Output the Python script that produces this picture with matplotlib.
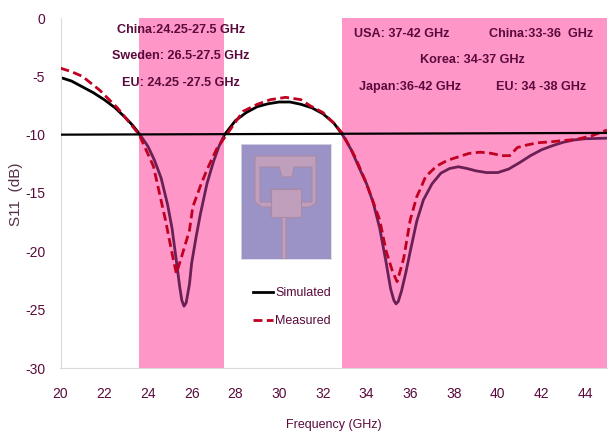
import matplotlib
matplotlib.use("Agg")
import matplotlib.pyplot as plt
from matplotlib.patches import Polygon, Rectangle

plt.rcParams['font.family'] = ['Liberation Sans', 'DejaVu Sans']
plt.rcParams['axes.unicode_minus'] = False

sim_freq = [20, 20.5, 21, 21.5, 22, 22.5, 23, 23.3, 23.6, 24, 24.3, 24.6, 24.9, 25.1, 25.3, 25.45, 25.55, 25.65, 25.75,
            25.9, 26, 26.2, 26.4, 26.7, 27, 27.25, 27.5, 28, 28.5, 29, 29.5, 30, 30.5, 31, 31.5, 32, 32.5, 32.9,
            33.3, 33.7, 34, 34.3, 34.6, 34.9, 35.1, 35.25, 35.35, 35.45, 35.6, 35.8, 36, 36.3, 36.6, 37, 37.4, 37.8,
            38.2, 38.6, 39, 39.5, 40, 40.5, 41, 41.5, 42, 42.5, 43, 43.5, 44, 45]
sim_s11 = [-5.1, -5.4, -5.9, -6.4, -7.0, -7.7, -8.6, -9.2, -9.9, -11.0, -12.2, -13.7, -16.0, -18.0, -20.8, -23.0,
           -24.2, -24.7, -24.4, -22.8, -21.0, -18.8, -16.8, -14.2, -12.3, -11.0, -10.0, -8.8, -8.1, -7.6, -7.35, -7.2,
           -7.2, -7.4, -7.7, -8.2, -9.0, -10.0, -11.3, -13.0, -14.2, -15.8, -18.0, -21.0, -23.2, -24.2, -24.5, -24.3,
           -23.4, -21.8, -20.0, -17.4, -15.6, -14.2, -13.3, -12.9, -12.75, -12.9, -13.1, -13.25, -13.25, -12.95, -12.4,
           -11.8, -11.3, -10.95, -10.65, -10.45, -10.35, -10.3]

meas_freq = [20, 20.5, 21, 21.8, 22.6, 23.3, 23.6, 24.25, 24.8, 25.0, 25.15, 25.3, 25.55, 25.9, 26.05, 26.4, 26.7,
             27.15, 27.6, 28.35, 29, 29.6, 30.3, 31, 31.4, 32, 32.5, 32.9, 33.5, 34, 34.6, 34.9, 35.2, 35.4, 35.7,
             36, 36.3, 36.45, 36.7, 37.2, 37.7, 38.2, 38.7, 39.2, 39.7, 40.2, 40.55, 40.9, 41.3, 41.8, 42.5, 43.6, 44.3, 45]
meas_s11 = [-4.3, -4.6, -5.0, -6.2, -7.7, -9.3, -10.0, -12.7, -17.3, -19.2, -20.6, -21.9, -20.4, -18.2, -16.2,
            -14.4, -13.0, -11.2, -10.0, -8.0, -7.4, -7.0, -6.8, -7.0, -7.5, -8.1, -9.0, -9.9, -12.0, -14.2, -17.3,
            -20.0, -21.8, -22.6, -20.6, -17.3, -15.3, -14.7, -13.6, -12.7, -12.2, -11.9, -11.6, -11.5, -11.6, -11.8,
            -11.8, -11.1, -10.9, -10.7, -10.6, -10.4, -10.1, -9.6]

ref_freq = [20, 45]
ref_s11 = [-10, -9.85]

bands = [(23.6, 27.5), (32.9, 45)]
x_ticks = list(range(20, 46, 2))
y_ticks = [0, -5, -10, -15, -20, -25, -30]

text_color = "#5a0a3c"
pink = "#ff96c8"

fig = plt.figure(figsize=(6.14, 4.34), dpi=100)
ax = fig.add_axes([60.5 / 614, 1 - 368 / 434, (607 - 60.5) / 614, 350 / 434])

sim_line, = ax.plot(sim_freq, sim_s11, color="black", lw=2, zorder=2, label="Simulated")
for start, end in bands:
    ax.axvspan(start, end, color=pink, lw=0, zorder=2.5)
    # black line turns purple where the pink sits over it
    inside, = ax.plot(sim_freq, sim_s11, color="#6a1f55", lw=2, zorder=3)
    inside.set_clip_path(Rectangle((start, -30), end - start, 30, transform=ax.transData))
meas_line, = ax.plot(meas_freq, meas_s11, color="#c00020", lw=2, ls=(0, (3.2, 1.6)), zorder=4, label="Measured")
ax.plot(ref_freq, ref_s11, color="black", lw=1.6, zorder=5)

ax.set_xlim(20, 45)
ax.set_ylim(-30, 0)
ax.set_xticks(x_ticks)
ax.set_yticks(y_ticks)
ax.tick_params(length=0, labelsize=10, labelcolor=text_color)
ax.tick_params(axis="x", pad=14)
ax.tick_params(axis="y", pad=11)
for side in ["top", "right"]:
    ax.spines[side].set_visible(False)
for side in ["left", "bottom"]:
    ax.spines[side].set_color("#d9d9d9")

fig.text(334 / 614, 1 - 425 / 434, "Frequency (GHz)", color=text_color, fontsize=9, ha="center", va="center")
fig.text(16 / 614, 1 - 194 / 434, "S11  (dB)", color="#55304a", fontsize=11, rotation=90, ha="center", va="center")

band_labels = [
    ("China:24.25-27.5 GHz", 181, 30),
    ("Sweden: 26.5-27.5 GHz", 181, 56),
    ("EU: 24.25 -27.5 GHz", 181, 83),
    ("USA: 37-42 GHz", 402, 34),
    ("China:33-36  GHz", 541, 34),
    ("Korea: 34-37 GHz", 472, 60),
    ("Japan:36-42 GHz", 410, 87),
    ("EU: 34 -38 GHz", 541, 87),
]
for label, px, py in band_labels:
    fig.text(px / 614, 1 - py / 434, label, color=text_color, fontsize=9.1, fontweight="bold", ha="center", va="center",
             zorder=10)

# antenna photo, drawn in its own small axes
photo = fig.add_axes([241 / 614, 1 - 259 / 434, 89.5 / 614, 115 / 434])
photo.set_facecolor("#9b93c6")
photo.set_xlim(241, 330.5)
photo.set_ylim(259, 144)
photo.set_xticks([])
photo.set_yticks([])
for spine in photo.spines.values():
    spine.set_color("#d8d8e4")
    spine.set_linewidth(0.6)
patch_color = "#bf9fbb"
edge_color = "#a98aa8"
frame = [(255, 156), (316, 156), (316, 203), (310, 207), (301, 207), (301, 217), (286, 217), (286, 259), (282, 259),
         (282, 217), (271, 217), (271, 207), (262, 207), (255, 202)]
photo.add_patch(Polygon(frame, closed=True, fc=patch_color, ec=edge_color, lw=0.8))
left_slot = [(260, 167), (279, 167), (282, 177), (292, 177), (294, 167), (312, 167), (312, 202), (301, 202), (301, 189),
             (271, 189), (271, 202), (260, 202)]
photo.add_patch(Polygon(left_slot, closed=True, fc="#9b93c6", ec=edge_color, lw=0.8))
photo.add_patch(Polygon([(271, 189), (301, 189), (301, 217), (271, 217)], closed=True, fc=patch_color, ec=edge_color, lw=0.8))

ax.legend(handles=[sim_line, meas_line], loc="upper left", bbox_to_anchor=(192 / 546.5, 1 - 269 / 350), frameon=False,
          fontsize=9, labelcolor=text_color, handlelength=1.6, handletextpad=0.2, labelspacing=1.3,
          borderpad=0, borderaxespad=0)

fig.savefig("out.png", dpi=100)
